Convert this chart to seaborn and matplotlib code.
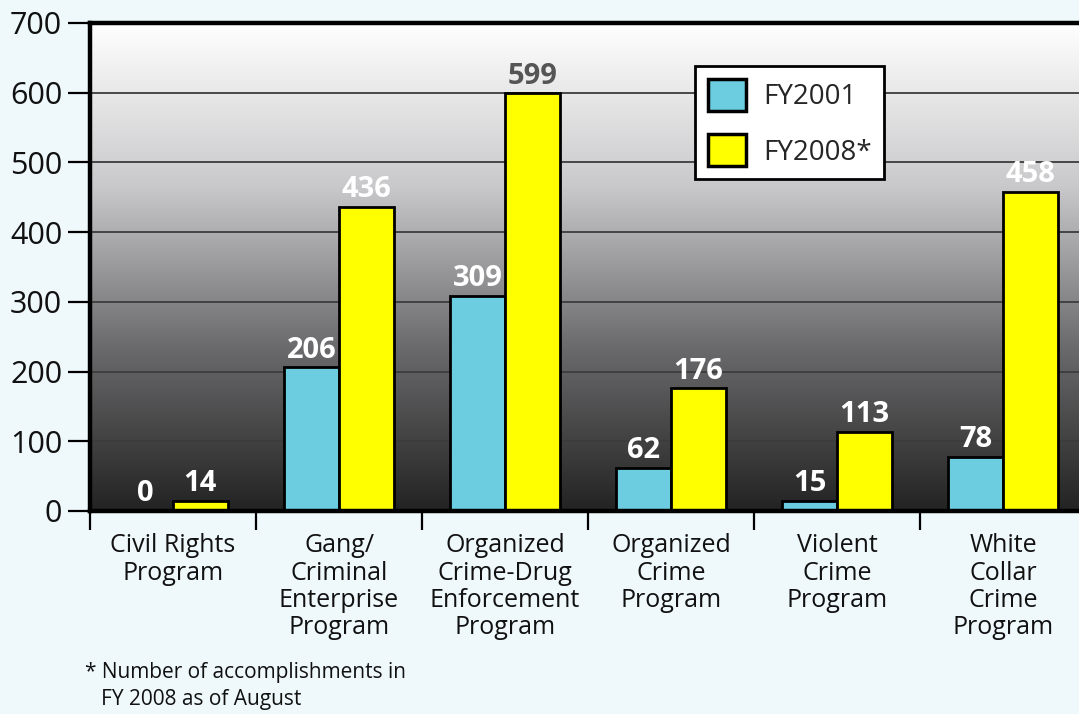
import numpy as np
import pandas as pd
import matplotlib
matplotlib.use("Agg")
import matplotlib.pyplot as plt
from matplotlib.colors import LinearSegmentedColormap
import seaborn as sns

categories = ["Civil Rights\nProgram", "Gang/\nCriminal\nEnterprise\nProgram",
              "Organized\nCrime-Drug\nEnforcement\nProgram", "Organized\nCrime\nProgram",
              "Violent\nCrime\nProgram", "White\nCollar\nCrime\nProgram"]
fy2001 = [0, 206, 309, 62, 15, 78]
fy2008 = [14, 436, 599, 176, 113, 458]
series = ["FY2001", "FY2008*"]
yticks = [0, 100, 200, 300, 400, 500, 600, 700]

df = pd.DataFrame({
    "cat": categories * 2,
    "val": fy2001 + fy2008,
    "year": [series[0]] * len(categories) + [series[1]] * len(categories),
})

sns.set_theme(style="white")
plt.rcParams["font.family"] = ["Open Sans", "DejaVu Sans"]

bg = "#eff8fb"
fig = plt.figure(figsize=(10.79, 7.14), dpi=100, facecolor=bg)
ax = fig.add_axes([90/1079, 1 - 511/714, 996/1079, 488/714])
ax.set_facecolor("#000000")

sns.barplot(data=df, x="cat", y="val", hue="year", order=categories,
            palette={series[0]: "#6ccde0", series[1]: "#ffff00"},
            width=0.66, gap=0, edgecolor="black", linewidth=2, ax=ax,
            saturation=1, zorder=3)

cmap = LinearSegmentedColormap.from_list("g", ["#232323", "#6a6a6c", "#c9c9cb", "#ffffff"])
grad = np.linspace(0, 1, 256)[:, None]
ax.imshow(grad, extent=[-0.5, len(categories) - 0.5, 0, 700], origin="lower",
          aspect="auto", cmap=cmap, zorder=0)
ax.set_xlim(-0.5, len(categories) - 0.5)
ax.set_ylim(0, 700)

for y in yticks[1:-1]:
    ax.axhline(y, color="#3c3c3c", lw=1.3, zorder=1)

# value labels
for cont, vals in zip(ax.containers, [fy2001, fy2008]):
    for rect, v in zip(cont, vals):
        col = "#555555" if v > 560 else "white"
        ax.annotate(str(v), (rect.get_x() + rect.get_width() / 2, v),
                    xytext=(0, 2), textcoords="offset points", ha="center", va="bottom",
                    fontsize=21, fontweight="bold", color=col, zorder=5)

ax.spines["right"].set_visible(False)
for s in ["left", "top", "bottom"]:
    ax.spines[s].set_visible(True)
    ax.spines[s].set_color("black")
    ax.spines[s].set_linewidth(3.2)
    ax.spines[s].set_zorder(6)

ax.set_yticks(yticks)
ax.set_yticklabels([str(t) for t in yticks], fontsize=22, color="#111111")
ax.tick_params(axis="y", which="major", left=True, length=16, width=1.6, color="black", pad=4)
ax.set_xticks(range(len(categories)))
ax.set_xticklabels(categories, fontsize=18, color="#111111", linespacing=1.12)
ax.set_xticks(np.arange(-0.5, len(categories), 1.0), minor=True)
ax.tick_params(axis="x", which="major", length=0, pad=16)
ax.tick_params(axis="x", which="minor", bottom=True, length=14, width=1.6, color="black")
ax.set_xlabel("")
ax.set_ylabel("")

ax.legend_.remove()
handles = [plt.Rectangle((0, 0), 1, 1, fc=c, ec="black", lw=2.5) for c in ["#6ccde0", "#ffff00"]]
leg = ax.legend(handles, series, loc="upper left", bbox_to_anchor=(695/1079, 1 - 66/714),
                bbox_transform=fig.transFigure, fontsize=20, frameon=True, fancybox=False,
                handlelength=1.4, handleheight=1.4, handletextpad=0.6, borderpad=0.45,
                labelspacing=0.85, borderaxespad=0)
leg.get_frame().set_edgecolor("black")
leg.get_frame().set_linewidth(2)
leg.get_frame().set_facecolor("white")
leg.get_frame().set_alpha(1)
leg.set_zorder(10)

fig.text(85/1079, 1 - 686/714, "* Number of accomplishments in\n   FY 2008 as of August",
         fontsize=15, color="#111111", va="center", ha="left", linespacing=1.4)

fig.savefig("out.png", dpi=100, facecolor=bg)
